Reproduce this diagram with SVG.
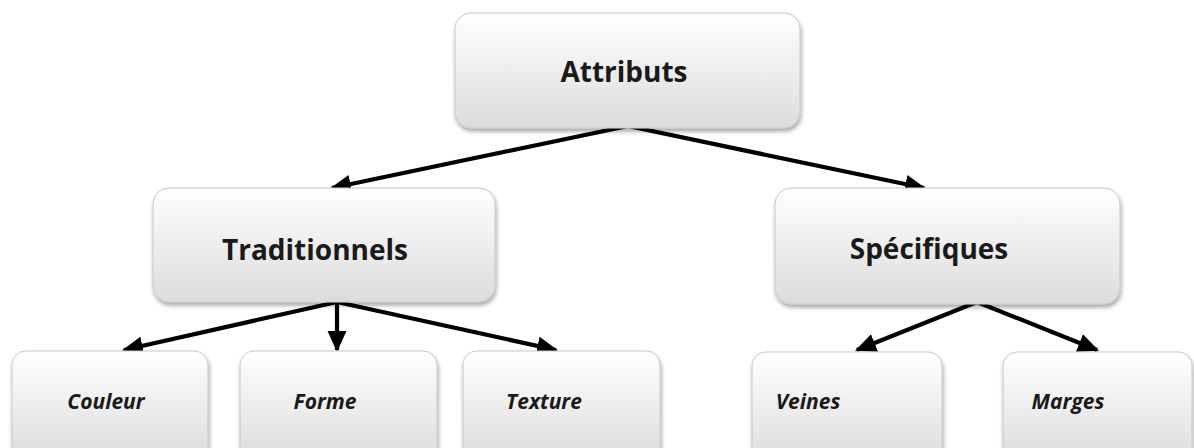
<svg xmlns="http://www.w3.org/2000/svg" width="1194" height="448" viewBox="0 0 1194 448">
<defs>
<linearGradient id="g" x1="0" y1="0" x2="0" y2="1">
<stop offset="0" stop-color="#ffffff"/>
<stop offset="1" stop-color="#dcdcdc"/>
</linearGradient>
<filter id="sh" x="-10%" y="-10%" width="120%" height="130%">
<feDropShadow dx="1" dy="3" stdDeviation="2" flood-color="#000" flood-opacity="0.35"/>
</filter>
<marker id="ah" viewBox="0 0 10 10" refX="9" refY="5" markerWidth="5" markerHeight="5" orient="auto" markerUnits="strokeWidth">
<path d="M0,0.5 L10,5 L0,9.5 Z" fill="#000"/>
</marker>
<style>
.box{fill:url(#g);stroke:#c8c8c8;stroke-width:1;filter:url(#sh)}
.t1{font-family:"Open Sans","Liberation Sans",sans-serif;font-weight:bold;font-size:28px;fill:#1a1a1a;text-anchor:middle}
.t2{font-family:"Open Sans","Liberation Sans",sans-serif;font-weight:bold;font-style:italic;font-size:21px;fill:#1a1a1a;text-anchor:middle}
.c{stroke:#000;stroke-width:4.2;fill:none;marker-end:url(#ah)}
</style>
</defs>
<rect width="1194" height="448" fill="#fff"/>
<g id="connectors">
<line class="c" x1="628" y1="126" x2="332" y2="188"/>
<line class="c" x1="628" y1="126" x2="924" y2="188"/>
<line class="c" x1="337" y1="302" x2="124" y2="350"/>
<line class="c" x1="337" y1="302" x2="337" y2="350"/>
<line class="c" x1="337" y1="302" x2="556" y2="350"/>
<line class="c" x1="977" y1="302" x2="857" y2="350"/>
<line class="c" x1="977" y1="302" x2="1097" y2="350"/>
</g>
<g id="attributs">
<rect class="box" x="455" y="13" width="345" height="115" rx="16"/>
<text class="t1" x="624" y="82">Attributs</text>
</g>
<g id="traditionnels">
<rect class="box" x="153" y="188" width="342" height="114" rx="16"/>
<text class="t1" x="315" y="260">Traditionnels</text>
</g>
<g id="specifiques">
<rect class="box" x="775" y="188" width="345" height="116" rx="16"/>
<text class="t1" x="929" y="259">Spécifiques</text>
</g>
<g id="couleur">
<rect class="box" x="12" y="351" width="196" height="110" rx="14"/>
<text class="t2" x="106" y="409">Couleur</text>
</g>
<g id="forme">
<rect class="box" x="240" y="351" width="197" height="110" rx="14"/>
<text class="t2" x="325" y="409">Forme</text>
</g>
<g id="texture">
<rect class="box" x="463" y="351" width="197" height="110" rx="14"/>
<text class="t2" x="544" y="409">Texture</text>
</g>
<g id="veines">
<rect class="box" x="752" y="352" width="190" height="110" rx="14"/>
<text class="t2" x="808" y="409">Veines</text>
</g>
<g id="marges">
<rect class="box" x="1003" y="352" width="189" height="110" rx="14"/>
<text class="t2" x="1068" y="409">Marges</text>
</g>
</svg>
